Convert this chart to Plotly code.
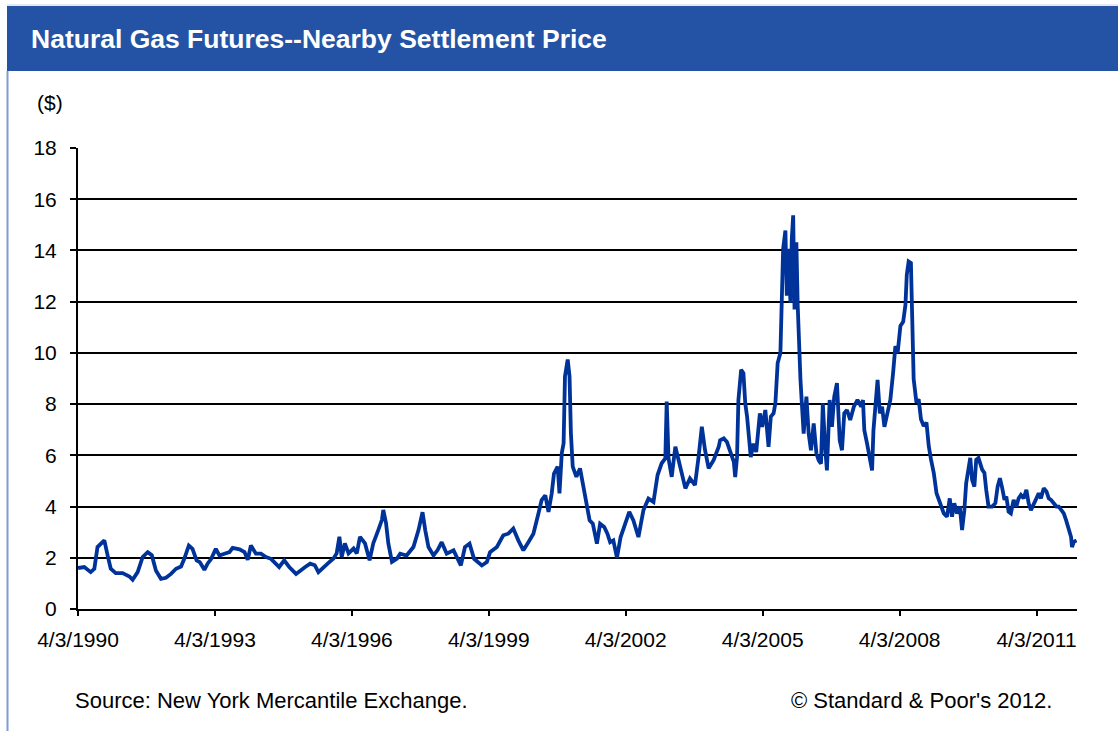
import pandas as pd
import plotly.graph_objects as go

# Nearby natural gas futures settlement price ($), sampled along the series.
# Times are given as decimal years.
t_1990_1997 = [
    1990.253, 1990.39, 1990.53, 1990.61, 1990.68, 1990.83, 1990.90, 1990.97,
    1991.08, 1991.23, 1991.38, 1991.45, 1991.56, 1991.67, 1991.78, 1991.87,
    1991.96, 1992.07, 1992.18, 1992.29, 1992.40, 1992.51, 1992.58, 1992.68,
    1992.76, 1992.85, 1992.92, 1993.02, 1993.09, 1993.17, 1993.27, 1993.35,
    1993.46, 1993.57, 1993.64, 1993.79, 1993.90, 1993.97, 1994.04, 1994.15,
    1994.26, 1994.37, 1994.48, 1994.55, 1994.66, 1994.77, 1994.88, 1995.03,
    1995.12, 1995.23, 1995.34, 1995.44, 1995.52, 1995.63, 1995.74, 1995.85,
    1995.92, 1995.98, 1996.03, 1996.10, 1996.18, 1996.29, 1996.36, 1996.43,
    1996.54, 1996.64, 1996.72, 1996.83, 1996.91, 1996.94, 1997.00, 1997.05,
    1997.13, 1997.24,
]
p_1990_1997 = [
    1.60, 1.64, 1.44, 1.57, 2.42, 2.68, 2.10, 1.57,
    1.40, 1.40, 1.27, 1.14, 1.44, 2.03, 2.22, 2.10,
    1.50, 1.18, 1.22, 1.37, 1.57, 1.66, 1.96, 2.48,
    2.35, 1.90, 1.83, 1.53, 1.77, 1.96, 2.35, 2.09,
    2.16, 2.22, 2.39, 2.33, 2.22, 1.92, 2.48, 2.16,
    2.16, 2.03, 1.96, 1.83, 1.64, 1.90, 1.64, 1.37,
    1.51, 1.64, 1.77, 1.71, 1.44, 1.64, 1.80, 1.97,
    2.17, 2.82, 2.03, 2.56, 2.17, 2.36, 2.17, 2.82,
    2.56, 1.90, 2.56, 3.08, 3.48, 3.87, 3.35, 2.56,
    1.84, 1.97,
]

t_1997_2004 = [
    1997.31, 1997.45, 1997.60, 1997.71, 1997.80, 1997.86, 1997.93, 1998.04,
    1998.13, 1998.22, 1998.33, 1998.48, 1998.64, 1998.73, 1998.83, 1998.93,
    1999.10, 1999.21, 1999.28, 1999.43, 1999.57, 1999.68, 1999.79, 1999.90,
    2000.01, 2000.12, 2000.23, 2000.34, 2000.41, 2000.49, 2000.56, 2000.63,
    2000.68, 2000.76, 2000.80, 2000.85, 2000.89, 2000.92, 2000.98, 2001.02,
    2001.05, 2001.09, 2001.17, 2001.25, 2001.31, 2001.38, 2001.46, 2001.53,
    2001.62, 2001.69, 2001.78, 2001.85, 2001.91, 2001.98, 2002.06, 2002.14,
    2002.24, 2002.33, 2002.42, 2002.53, 2002.64, 2002.75, 2002.86, 2002.95,
    2003.04, 2003.12, 2003.15, 2003.19, 2003.26, 2003.34, 2003.41, 2003.48,
    2003.56, 2003.66, 2003.77, 2003.85, 2003.92, 2003.99, 2004.07, 2004.18,
    2004.29,
]
p_1997_2004 = [
    2.16, 2.09, 2.42, 3.07, 3.78, 3.07, 2.42, 2.09,
    2.30, 2.61, 2.16, 2.29, 1.70, 2.42, 2.55, 1.96,
    1.70, 1.83, 2.22, 2.42, 2.88, 2.94, 3.14, 2.68,
    2.29, 2.61, 2.94, 3.73, 4.25, 4.44, 3.79, 4.51,
    5.29, 5.56, 4.51, 6.08, 6.47, 9.08, 9.74, 9.08,
    6.86, 5.56, 5.16, 5.49, 4.90, 4.25, 3.46, 3.33,
    2.55, 3.33, 3.20, 2.94, 2.61, 2.68, 2.00, 2.81,
    3.33, 3.79, 3.46, 2.81, 3.86, 4.31, 4.18, 5.23,
    5.69, 5.88, 8.10, 5.88, 5.16, 6.34, 5.82, 5.29,
    4.71, 5.10, 4.84, 5.95, 7.12, 6.21, 5.49, 5.82,
    6.34,
]

t_2004_2008 = [
    2004.32, 2004.40, 2004.47, 2004.54, 2004.62, 2004.65, 2004.69, 2004.72,
    2004.78, 2004.83, 2004.87, 2004.91, 2004.94, 2004.99, 2005.05, 2005.11,
    2005.19, 2005.24, 2005.31, 2005.38, 2005.43, 2005.49, 2005.53, 2005.58,
    2005.64, 2005.67, 2005.70, 2005.75, 2005.78, 2005.82, 2005.86, 2005.89,
    2005.92, 2005.95, 2005.99, 2006.02, 2006.04, 2006.08, 2006.11, 2006.15,
    2006.21, 2006.26, 2006.31, 2006.37, 2006.43, 2006.48, 2006.53, 2006.57,
    2006.62, 2006.66, 2006.72, 2006.77, 2006.82, 2006.88, 2006.94, 2006.99,
    2007.04, 2007.10, 2007.17, 2007.25, 2007.33, 2007.41, 2007.45, 2007.48,
    2007.54, 2007.60, 2007.65, 2007.68, 2007.72, 2007.77, 2007.82, 2007.87,
    2007.92, 2007.98, 2008.05, 2008.11, 2008.16, 2008.21, 2008.27,
]
p_2004_2008 = [
    6.59, 6.66, 6.52, 6.20, 5.74, 5.15, 5.93, 8.16,
    9.34, 9.21, 8.03, 7.51, 6.85, 5.93, 6.46, 6.13,
    7.64, 7.11, 7.77, 6.33, 7.51, 7.64, 8.03, 9.60,
    10.00, 11.83, 14.06, 14.78, 12.23, 14.06, 11.96, 14.45,
    15.37, 11.70, 14.32, 11.83, 10.52, 8.95, 8.03, 6.85,
    8.29, 6.85, 6.20, 7.25, 6.07, 5.80, 5.67, 8.03,
    6.33, 5.41, 8.16, 7.11, 8.29, 8.82, 6.59, 6.20,
    7.64, 7.77, 7.38, 7.90, 8.16, 7.90, 8.16, 6.98,
    6.46, 5.80, 5.41, 6.98, 7.90, 8.95, 7.64, 7.90,
    7.11, 7.64, 8.16, 9.21, 10.26, 10.00, 11.05,
]

t_2008_2012 = [
    2008.33, 2008.38, 2008.41, 2008.45, 2008.50, 2008.53, 2008.56, 2008.62,
    2008.67, 2008.72, 2008.78, 2008.84, 2008.89, 2008.94, 2009.00, 2009.06,
    2009.11, 2009.16, 2009.22, 2009.29, 2009.35, 2009.40, 2009.45, 2009.51,
    2009.57, 2009.62, 2009.67, 2009.71, 2009.77, 2009.80, 2009.84, 2009.89,
    2009.93, 2009.98, 2010.06, 2010.11, 2010.15, 2010.20, 2010.28, 2010.35,
    2010.40, 2010.45, 2010.50, 2010.55, 2010.59, 2010.64, 2010.69, 2010.75,
    2010.81, 2010.86, 2010.91, 2010.97, 2011.03, 2011.08, 2011.13, 2011.19,
    2011.25, 2011.30, 2011.35, 2011.41, 2011.47, 2011.52, 2011.57, 2011.63,
    2011.69, 2011.74, 2011.79, 2011.85, 2011.90, 2011.96, 2012.01, 2012.03,
    2012.07, 2012.13,
]
p_2008_2012 = [
    11.21, 11.87, 13.05, 13.57, 13.51, 10.69, 8.98, 8.06,
    8.19, 7.41, 7.14, 7.28, 6.36, 5.83, 5.31, 4.52,
    4.26, 4.00, 3.73, 3.60, 4.32, 3.60, 4.13, 3.73,
    4.00, 3.08, 3.86, 4.91, 5.57, 5.90, 5.04, 4.78,
    5.83, 5.90, 5.44, 5.31, 4.65, 4.00, 4.00, 4.13,
    4.78, 5.11, 4.72, 4.26, 4.39, 3.80, 3.73, 4.26,
    4.00, 4.32, 4.45, 4.32, 4.65, 4.13, 3.86, 4.13,
    4.32, 4.52, 4.32, 4.72, 4.59, 4.32, 4.26, 4.13,
    4.00, 4.00, 3.86, 3.73, 3.47, 3.14, 2.81, 2.42,
    2.62, 2.68,
]

tick_dates = ["1990-04-03", "1993-04-03", "1996-04-03", "1999-04-03",
              "2002-04-03", "2005-04-03", "2008-04-03", "2011-04-03"]
tick_labels = ["4/3/1990", "4/3/1993", "4/3/1996", "4/3/1999",
               "4/3/2002", "4/3/2005", "4/3/2008", "4/3/2011"]
y_ticks = [0, 2, 4, 6, 8, 10, 12, 14, 16, 18]


def to_date(t):
    year = int(t)
    start = pd.Timestamp(year=year, month=1, day=1)
    days = (pd.Timestamp(year=year + 1, month=1, day=1) - start).days
    return start + pd.Timedelta(days=(t - year) * days)


years = t_1990_1997 + t_1997_2004 + t_2004_2008 + t_2008_2012
prices = p_1990_1997 + p_1997_2004 + p_2004_2008 + p_2008_2012
dates = [to_date(t) for t in years]

W, H = 1118, 731
L, R, T, B = 78, 41, 148, 122
PW, PH = W - L - R, H - T - B


def px(x):
    return (x - L) / PW


def py(y):
    return (H - B - y) / PH


FONT = "Liberation Sans, Arial, sans-serif"
LINE_BLUE = "#003399"
BAR_BLUE = "#2453a6"

fig = go.Figure()
fig.add_trace(go.Scatter(
    x=dates, y=prices, mode="lines",
    line=dict(color=LINE_BLUE, width=3.8),
    hoverinfo="skip", showlegend=False,
))

fig.update_layout(
    width=W, height=H,
    margin=dict(l=L, r=R, t=T, b=B, pad=0),
    paper_bgcolor="white", plot_bgcolor="white",
    font=dict(family=FONT, size=21, color="#000"),
    showlegend=False,
    shapes=[
        # heading band
        dict(type="rect", xref="paper", yref="paper",
             x0=px(7), x1=px(W + 2), y0=py(71), y1=py(6),
             fillcolor=BAR_BLUE, line=dict(width=0), layer="below"),
        # thin frame line along the top and left edge
        dict(type="line", xref="paper", yref="paper",
             x0=px(7), x1=px(W + 2), y0=py(5), y1=py(5),
             line=dict(color="#c9d3e6", width=1)),
        dict(type="line", xref="paper", yref="paper",
             x0=px(7.5), x1=px(7.5), y0=py(71), y1=py(H + 2),
             line=dict(color="#7e9bd2", width=2)),
    ],
    annotations=[
        dict(text="<b>Natural Gas Futures--Nearby Settlement Price</b>",
             xref="paper", yref="paper", x=px(29), y=py(39),
             xanchor="left", yanchor="middle", showarrow=False,
             font=dict(family=FONT, size=26.5, color="white")),
        dict(text="($)", xref="paper", yref="paper", x=px(35), y=py(103),
             xanchor="left", yanchor="middle", showarrow=False,
             font=dict(family=FONT, size=21)),
        dict(text="Source: New York Mercantile Exchange.",
             xref="paper", yref="paper", x=px(73), y=py(700),
             xanchor="left", yanchor="middle", showarrow=False,
             font=dict(family=FONT, size=22)),
        dict(text="\u00a9 Standard &amp; Poor's 2012.",
             xref="paper", yref="paper", x=px(1054), y=py(700),
             xanchor="right", yanchor="middle", showarrow=False,
             font=dict(family=FONT, size=22)),
    ],
)

fig.update_xaxes(
    type="date",
    range=["1990-04-03", "2012-02-21"],
    tickmode="array", tickvals=tick_dates, ticktext=tick_labels,
    ticks="outside", ticklen=5, tickwidth=2, tickcolor="#000",
    showline=True, linecolor="#000", linewidth=2,
    showgrid=False, zeroline=False,
    tickfont=dict(family=FONT, size=21, color="#000"),
    ticklabelstandoff=6,
)
fig.update_yaxes(
    range=[0, 18],
    tickmode="array", tickvals=y_ticks,
    ticks="outside", ticklen=6, tickwidth=2, tickcolor="#000",
    showline=True, linecolor="#000", linewidth=2,
    showgrid=True, gridcolor="#000", gridwidth=1.6,
    zeroline=False,
    tickfont=dict(family=FONT, size=21, color="#000"),
    ticklabelstandoff=9,
)

fig.write_html("out.html")
